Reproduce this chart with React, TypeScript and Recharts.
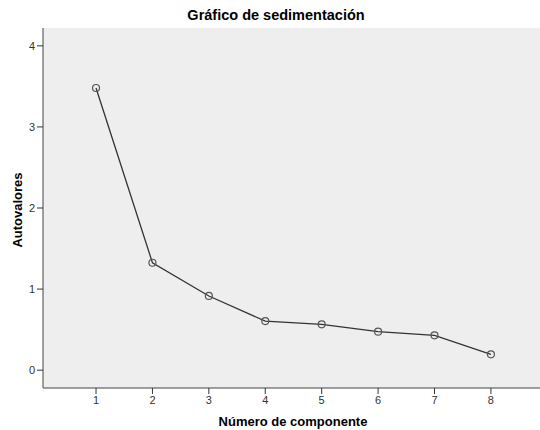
import React from "react";
import { LineChart, Line, XAxis, YAxis, CartesianGrid } from "recharts";

const components = [1, 2, 3, 4, 5, 6, 7, 8];
const eigenvalues = [3.48, 1.325, 0.915, 0.605, 0.565, 0.475, 0.43, 0.195];
const yTicks = [0, 1, 2, 3, 4];
const xTicks = [1, 2, 3, 4, 5, 6, 7, 8];

const data = components.map((c, i) => ({ comp: c, val: eigenvalues[i] }));

const FONT = "'Liberation Sans', Arial, sans-serif";

export default function App() {
  return (
    <div style={{ position: "absolute", left: 0, top: 0, width: 540, height: 430, background: "#fff", fontFamily: FONT }}>
      <LineChart width={540} height={430} data={data} margin={{ top: 28, right: 0, bottom: 0, left: 0 }}>
        <CartesianGrid fill="#eeeeee" horizontal={false} vertical={false} />
        <XAxis
          xAxisId="top"
          orientation="top"
          dataKey="comp"
          type="number"
          domain={[0.06, 8.87]}
          ticks={[]}
          tick={false}
          height={0}
          axisLine={{ stroke: "#888", strokeWidth: 2 }}
          tickLine={false}
        />
        <XAxis
          dataKey="comp"
          type="number"
          domain={[0.06, 8.87]}
          ticks={xTicks}
          height={42}
          axisLine={{ stroke: "#444", strokeWidth: 1 }}
          tickLine={{ stroke: "#333" }}
          tickSize={6}
          tick={{ fill: "#333", fontSize: 11, fontFamily: FONT }}
          allowDataOverflow
        />
        <YAxis
          type="number"
          domain={[-0.22, 4.22]}
          ticks={yTicks}
          width={43}
          axisLine={{ stroke: "#444", strokeWidth: 1 }}
          tickLine={{ stroke: "#333" }}
          tickSize={6}
          tick={{ fill: "#333", fontSize: 11, fontFamily: FONT }}
          allowDataOverflow
        />
        <Line
          xAxisId={0}
          dataKey="val"
          stroke="#333"
          strokeWidth={1.3}
          dot={{ r: 3.5, stroke: "#555", strokeWidth: 1.2, fill: "none" }}
          isAnimationActive={false}
        />
        <text x={276} y={20} textAnchor="middle" fontSize={14.5} fontWeight="bold" fontFamily={FONT} fill="#000">
          Gráfico de sedimentación
        </text>
        <text x={293} y={426} textAnchor="middle" fontSize={13} fontWeight="bold" fontFamily={FONT} fill="#000">
          Número de componente
        </text>
        <text
          x={22}
          y={210}
          textAnchor="middle"
          fontSize={13}
          fontWeight="bold"
          fontFamily={FONT}
          fill="#000"
          transform="rotate(-90 22 210)"
        >
          Autovalores
        </text>
      </LineChart>
    </div>
  );
}
